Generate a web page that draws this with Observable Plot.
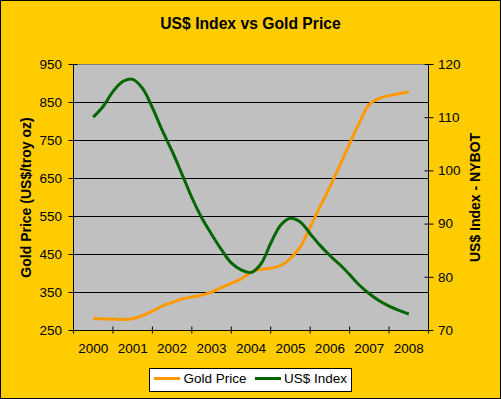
<!DOCTYPE html>
<html>
<head>
<meta charset="utf-8">
<script src="https://cdn.jsdelivr.net/npm/d3@7"></script>
<script src="https://cdn.jsdelivr.net/npm/@observablehq/plot@0.6"></script>
<style>
html, body { margin: 0; padding: 0; background: #fff; }
#chart { position: relative; width: 501px; height: 399px; background: #FFCC00; overflow: hidden;
  font-family: Arial, "Liberation Sans", sans-serif; color: #000; }
#chart svg { position: absolute; left: 0; top: 0; }
#border { position: absolute; left: 0; top: 0; width: 501px; height: 399px; box-sizing: border-box;
  border: 1px solid #000; pointer-events: none; }
#title { position: absolute; left: 0; width: 501px; top: 15.7px; text-align: center; font-weight: bold;
  font-size: 15.7px; line-height: 15.7px; white-space: nowrap; }
#legend { position: absolute; left: 149px; top: 368px; width: 203px; height: 24px; box-sizing: border-box;
  border: 1px solid #000; background: #fff; }
.sw { position: absolute; height: 3px; width: 26px; }
.lt { position: absolute; font-size: 13.5px; line-height: 13.5px; white-space: nowrap; }
</style>
</head>
<body>
<div id="chart">
  <div id="title"></div>
  <div id="border"></div>
</div>
<script>
// ---- Data ----
const chartTitle = "US$ Index vs Gold Price";
const goldLabel = "Gold Price (US$/troy oz)";
const usdLabel = "US$ Index - NYBOT";
const seriesNames = ["Gold Price", "US$ Index"];
const seriesColors = ["#FF9900", "#006600"];

const years = [
  2000.0, 2000.25, 2000.5, 2000.75,
  2001.0, 2001.25, 2001.5, 2001.75,
  2002.0, 2002.25, 2002.5, 2002.75,
  2003.0, 2003.25, 2003.5, 2003.75,
  2004.0, 2004.25, 2004.5, 2004.75,
  2005.0, 2005.25, 2005.5, 2005.75,
  2006.0, 2006.25, 2006.5, 2006.75,
  2007.0, 2007.25, 2007.5, 2007.75,
  2008.0
];
const goldPrice = [
  282, 280, 280, 279,
  281, 289, 301, 314,
  324, 333, 338, 343,
  351, 363, 374, 386,
  403, 411, 414, 421,
  440, 470, 522, 576,
  628, 684, 742, 797,
  845, 861, 868, 873,
  878
];
const usdIndex = [
  110.1, 112.1, 114.9, 116.8,
  117.2, 115.5, 111.9, 107.6,
  103.7, 99.4, 95.0, 91.2,
  88.1, 85.2, 82.7, 81.4,
  80.9, 82.5, 86.4, 89.8,
  91.1, 90.4, 88.2, 86.0,
  84.1, 82.4, 80.5, 78.5,
  76.9, 75.6, 74.6, 73.8,
  73.1
];

const yearTicks = [2000, 2001, 2002, 2003, 2004, 2005, 2006, 2007, 2008];
const yearBounds = [1999.5, 2000.5, 2001.5, 2002.5, 2003.5, 2004.5, 2005.5, 2006.5, 2007.5, 2008.5];
const goldTicks = [250, 350, 450, 550, 650, 750, 850, 950];
const usdTicks = [70, 80, 90, 100, 110, 120];

// ---- Secondary axis mapping (US$ index 70..120 onto gold 250..950) ----
const gMin = goldTicks[0], gMax = goldTicks[goldTicks.length - 1];
const uMin = usdTicks[0], uMax = usdTicks[usdTicks.length - 1];
const toGold = u => gMin + (u - uMin) * (gMax - gMin) / (uMax - uMin);
const fromGold = g => uMin + (g - gMin) * (uMax - uMin) / (gMax - gMin);

const data = years.map((t, i) => ({t, gold: goldPrice[i], usd: usdIndex[i], usdG: toGold(usdIndex[i])}));

const font = 'Arial, "Liberation Sans", sans-serif';

const plot = Plot.plot({
  width: 501,
  height: 399,
  marginLeft: 73,
  marginRight: 73,
  marginTop: 64,
  marginBottom: 69,
  style: {background: "transparent", maxWidth: "none", overflow: "visible", fontFamily: font, fontSize: "13.5px", color: "#000"},
  x: {domain: [yearBounds[0], yearBounds[yearBounds.length - 1]]},
  y: {domain: [gMin, gMax]},
  marks: [
    Plot.frame({fill: "#C0C0C0", stroke: "none"}),
    Plot.ruleY(goldTicks.slice(1, -1), {stroke: "#000", strokeWidth: 1}),
    Plot.ruleY([gMax], {stroke: "#808080", strokeWidth: 1}),
    Plot.ruleY([gMin], {stroke: "#000", strokeWidth: 1}),
    Plot.ruleX([yearBounds[0], yearBounds[yearBounds.length - 1]], {stroke: "#000", strokeWidth: 1}),
    // left axis
    Plot.axisY({anchor: "left", ticks: goldTicks, tickSize: 9, dx: 4.5, tickFormat: () => "", label: null, stroke: "#000"}),
    Plot.axisY({anchor: "left", ticks: goldTicks, tickSize: 0, tickPadding: 11.5, tickFormat: d => String(d), label: null, fill: "#000", fontSize: 13.5}),
    // right axis
    Plot.axisY({anchor: "right", ticks: usdTicks.map(toGold), tickSize: 9, dx: -4.5, tickFormat: () => "", label: null, stroke: "#000"}),
    Plot.axisY({anchor: "right", ticks: usdTicks.map(toGold), tickSize: 0, tickPadding: 9.5, tickFormat: g => String(Math.round(fromGold(g))), label: null, fill: "#000", fontSize: 13.5}),
    // bottom axis
    Plot.axisX({anchor: "bottom", ticks: yearBounds, tickSize: 7, dy: -3.5, tickFormat: () => "", label: null, stroke: "#000"}),
    Plot.axisX({anchor: "bottom", ticks: yearTicks, tickSize: 0, tickPadding: 13, tickFormat: d => String(d), label: null, fill: "#000", fontSize: 13.5}),
    // axis titles
    Plot.text([goldLabel], {frameAnchor: "left", textAnchor: "middle", lineAnchor: "middle", dx: -46.5, rotate: -90, fontWeight: "bold", fontSize: 14, fill: "#000"}),
    Plot.text([usdLabel], {frameAnchor: "right", textAnchor: "middle", lineAnchor: "middle", dx: 47.5, rotate: -90, fontWeight: "bold", fontSize: 14, fill: "#000"}),
    // series
    Plot.line(data, {x: "t", y: "gold", stroke: seriesColors[0], strokeWidth: 3, curve: "catmull-rom", strokeLinecap: "butt"}),
    Plot.line(data, {x: "t", y: "usdG", stroke: seriesColors[1], strokeWidth: 3, curve: "catmull-rom", strokeLinecap: "butt"})
  ]
});

const chart = document.getElementById("chart");
chart.insertBefore(plot, chart.firstChild);
document.getElementById("title").textContent = chartTitle;

// legend
const legend = document.createElement("div");
legend.id = "legend";
chart.appendChild(legend);
const legendItems = [
  {name: seriesNames[0], color: seriesColors[0], swX: 154, txX: 183.5},
  {name: seriesNames[1], color: seriesColors[1], swX: 254.5, txX: 284}
];
for (const it of legendItems) {
  const sw = document.createElement("div");
  sw.className = "sw";
  sw.style.left = it.swX + "px";
  sw.style.top = "377.3px";
  sw.style.background = it.color;
  chart.appendChild(sw);
  const tx = document.createElement("div");
  tx.className = "lt";
  tx.style.left = it.txX + "px";
  tx.style.top = "371.9px";
  tx.textContent = it.name;
  chart.appendChild(tx);
}
// keep border on top
chart.appendChild(document.getElementById("border"));
</script>
</body>
</html>
